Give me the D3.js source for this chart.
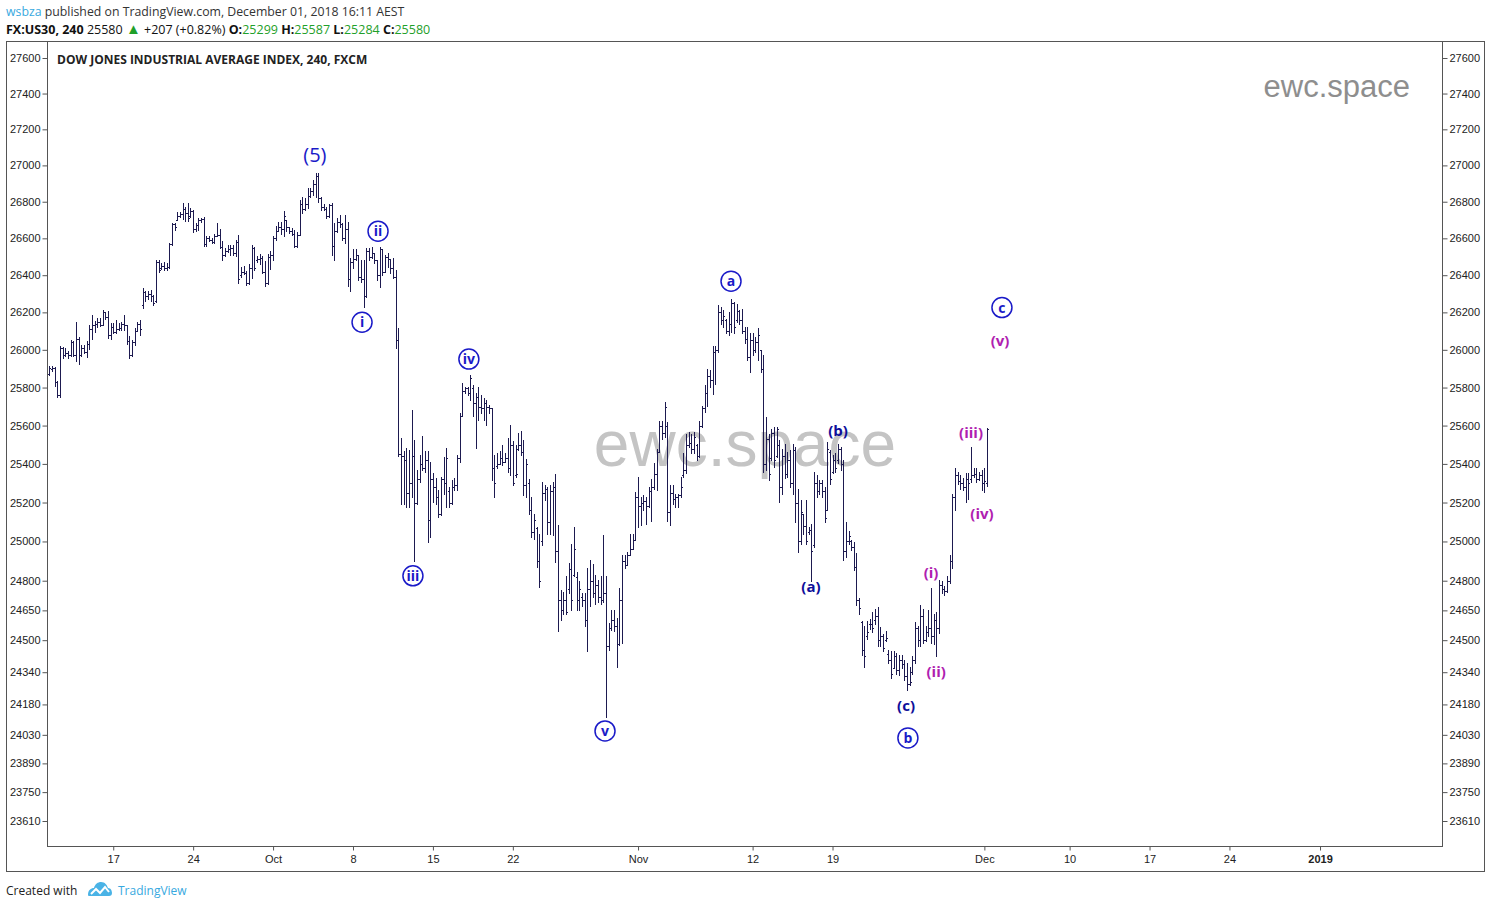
<!DOCTYPE html>
<html><head><meta charset="utf-8">
<script src="https://cdn.jsdelivr.net/npm/d3@7"></script>
<style>body{margin:0;background:#fff;} svg{display:block;}</style>
</head><body><svg id="c" width="1490" height="908"></svg>
<script>
// ---------- DATA (4h bars, FX:US30) ----------
const opens=[
25870,25900,25905,25830,25760,26010,25975,25985,25970,26040,
25975,26060,25975,26010,25990,26030,26110,26130,26140,26150,
26135,26200,26175,26080,26120,26095,26110,26115,26140,26130,
26045,25975,26040,26100,26140,26240,26310,26290,26300,26290,
26260,26470,26440,26450,26440,26445,26570,26680,26700,26720,
26735,26760,26740,26720,26750,26650,26670,26700,26705,26570,
26600,26590,26580,26615,26620,26555,26510,26530,26540,26550,
26520,26580,26400,26420,26410,26360,26440,26550,26480,26490,
26495,26420,26360,26500,26510,26600,26640,26660,26650,26700,
26660,26640,26625,26560,26620,26790,26760,26790,26830,26860,
26900,26940,26820,26770,26760,26720,26780,26560,26640,26690,
26680,26600,26650,26380,26470,26490,26510,26390,26380,26290,
26530,26500,26520,26480,26400,26540,26420,26500,26490,26440,
26390,26050,25450,25440,25420,25250,25300,25440,25200,25320,
25400,25380,25420,25110,25320,25280,25230,25140,25320,25300,
25260,25200,25280,25290,25430,25650,25780,25795,25770,25800,
25720,25750,25700,25690,25720,25700,25690,25380,25390,25400,
25430,25410,25430,25380,25500,25340,25480,25500,25460,25290,
25300,25160,25050,25070,24900,25000,25250,25270,25100,25260,
25280,24950,24700,24650,24700,24760,24860,24830,24820,24700,
24720,24700,24600,24760,24800,24740,24780,24720,24700,24740,
24470,24560,24600,24570,24480,24700,24900,24880,24930,24960,
25010,25230,25180,25200,25210,25180,25260,25280,25350,25460,
25600,25560,25600,25150,25250,25220,25230,25240,25340,25370,
25500,25510,25480,25500,25440,25600,25690,25770,25860,25840,
25990,26000,26200,26160,26160,26100,26140,26250,26160,26210,
26160,26100,26060,25960,26050,26000,26040,26000,25900,25400,
25530,25430,25560,25440,25500,25280,25440,25350,25420,25300,
25470,25200,25000,25140,25080,25050,25060,24980,25300,25260,
25300,25260,25160,25460,25360,25420,25420,25480,25400,24950,
25000,25000,24970,24870,24700,24590,24450,24520,24580,24580,
24600,24620,24500,24520,24500,24430,24400,24360,24420,24350,
24400,24380,24320,24280,24340,24400,24560,24500,24620,24500,
24540,24560,24520,24600,24560,24780,24760,24750,24800,24900,
25230,25340,25310,25300,25280,25320,25320,25340,25350,25320,
25340,25300,25299];
const highs=[
25913,25913,25908,25837,26018,26015,26010,25992,26054,26045,
26150,26070,26027,26027,26045,26130,26185,26155,26168,26168,
26215,26200,26210,26142,26142,26160,26142,26150,26185,26133,
26075,26054,26115,26150,26160,26330,26315,26315,26320,26295,
26480,26480,26467,26472,26467,26575,26683,26683,26746,26746,
26791,26773,26795,26764,26755,26683,26710,26710,26714,26615,
26611,26602,26624,26683,26650,26588,26548,26566,26566,26566,
26593,26620,26445,26449,26422,26458,26566,26553,26503,26517,
26503,26476,26517,26530,26615,26665,26687,26687,26750,26700,
26663,26654,26645,26636,26810,26828,26818,26875,26875,26922,
26960,26960,26825,26790,26772,26790,26795,26681,26709,26727,
26681,26727,26690,26494,26540,26543,26510,26483,26483,26550,
26550,26553,26520,26483,26553,26540,26510,26520,26490,26492,
26430,26116,25535,25465,25482,25473,25682,25526,25369,25447,
25543,25465,25465,25412,25351,25325,25264,25334,25438,25482,
25281,25316,25325,25447,25665,25823,25805,25805,25867,25814,
25770,25805,25761,25744,25735,25709,25691,25447,25456,25465,
25500,25456,25535,25604,25517,25500,25561,25574,25523,25428,
25324,25228,25142,25073,25039,25307,25289,25280,25289,25307,
25350,25082,24753,24745,24822,24888,24988,25073,24842,24800,
24736,24736,24863,24905,24884,24830,24804,24822,25031,24822,
24585,24650,24650,24610,24762,24930,24930,24947,25039,25039,
25254,25333,25228,25237,25228,25280,25324,25403,25480,25626,
25626,25723,25617,25289,25289,25246,25246,25333,25455,25557,
25566,25557,25566,25506,25626,25705,25811,25900,25892,26018,
26018,26237,26228,26211,26167,26202,26272,26254,26246,26211,
26219,26123,26123,26088,26088,26070,26114,26000,25973,25644,
25557,25583,25591,25591,25523,25480,25506,25463,25472,25506,
25489,25272,25211,25142,25211,25073,25090,25360,25342,25316,
25316,25281,25515,25472,25446,25455,25506,25489,25421,25099,
25056,25005,24997,24939,24710,24597,24572,24597,24605,24640,
24659,24667,24564,24530,24547,24453,24445,24445,24436,24428,
24428,24402,24385,24368,24419,24589,24572,24676,24659,24572,
24650,24762,24634,24642,24805,24797,24771,24822,24930,25246,
25377,25360,25342,25325,25351,25351,25489,25377,25377,25360,
25368,25377,25587];
const lows=[
25864,25887,25807,25750,25750,25957,25966,25957,25966,25966,
25940,25925,25966,25983,25960,26005,26058,26095,26124,26128,
26130,26165,26062,26058,26088,26088,26105,26108,26108,26030,
25955,25966,26025,26100,26080,26225,26260,26270,26260,26240,
26256,26415,26435,26430,26430,26440,26566,26647,26700,26715,
26705,26696,26692,26715,26633,26638,26647,26687,26557,26561,
26584,26575,26575,26611,26548,26485,26503,26525,26512,26512,
26503,26360,26390,26404,26346,26355,26386,26426,26470,26463,
26413,26341,26355,26431,26485,26593,26638,26625,26611,26640,
26627,26618,26551,26551,26618,26736,26755,26764,26828,26837,
26828,26800,26754,26754,26709,26718,26510,26483,26635,26663,
26590,26573,26340,26313,26438,26483,26375,26366,26230,26285,
26483,26493,26466,26375,26335,26402,26420,26447,26411,26384,
26010,25440,25195,25195,25175,25175,25228,24900,25195,25308,
25369,25360,24997,25022,25202,25195,25125,25134,25246,25175,
25175,25195,25264,25264,25412,25648,25770,25761,25735,25648,
25482,25630,25665,25630,25604,25665,25316,25228,25377,25400,
25395,25410,25360,25342,25290,25334,25473,25446,25237,25228,
25142,25022,25014,24872,24770,24980,25211,25039,25039,25031,
24897,24545,24602,24634,24634,24736,24650,24822,24650,24650,
24670,24569,24445,24670,24719,24684,24693,24684,24693,24119,
24452,24553,24545,24368,24478,24488,24863,24878,24930,24960,
25010,25073,25082,25159,25090,25176,25107,25272,25263,25460,
25532,25540,25107,25082,25194,25176,25176,25228,25333,25351,
25489,25455,25455,25421,25438,25591,25670,25705,25802,25767,
25820,25991,26140,26123,26088,26079,26097,26088,26149,26140,
26088,26035,25946,25883,25973,25991,25946,25883,25360,25369,
25316,25421,25386,25438,25202,25246,25325,25333,25281,25246,
25099,24947,24989,25039,24989,25039,24797,24972,25228,25246,
25228,25099,25159,25298,25351,25360,25403,25368,24905,24922,
24989,24955,24855,24676,24634,24428,24368,24505,24556,24540,
24581,24471,24471,24445,24496,24385,24311,24359,24333,24325,
24359,24300,24253,24275,24333,24385,24471,24471,24488,24496,
24521,24488,24479,24419,24538,24736,24727,24745,24788,24864,
25159,25298,25272,25264,25202,25219,25307,25333,25307,25316,
25264,25255,25284];
const closes=[
25904,25905,25830,25760,26010,25975,25985,25970,26040,25975,
26060,25975,26010,25990,26030,26110,26130,26140,26150,26135,
26200,26175,26080,26120,26095,26110,26115,26140,26130,26045,
25975,26040,26100,26140,26110,26310,26290,26300,26290,26250,
26470,26430,26450,26440,26445,26570,26680,26660,26720,26735,
26760,26740,26710,26750,26650,26670,26700,26705,26570,26600,
26590,26580,26615,26620,26555,26510,26530,26540,26550,26520,
26580,26380,26420,26410,26360,26440,26550,26440,26490,26495,
26420,26360,26500,26510,26600,26640,26660,26650,26720,26660,
26640,26625,26560,26620,26790,26760,26790,26830,26860,26900,
26940,26820,26770,26760,26720,26780,26560,26640,26690,26680,
26600,26650,26380,26470,26490,26510,26390,26380,26290,26530,
26500,26520,26480,26400,26540,26420,26500,26490,26440,26390,
26050,25450,25440,25420,25250,25300,25440,25200,25320,25400,
25380,25420,25110,25320,25280,25230,25140,25320,25300,25430,
25200,25280,25290,25430,25650,25780,25795,25770,25850,25720,
25750,25700,25690,25720,25700,25690,25380,25300,25400,25430,
25410,25430,25380,25500,25300,25350,25500,25460,25290,25400,
25160,25050,25110,24900,24800,25250,25270,25100,25260,25280,
24950,24700,24650,24700,24640,24860,24700,24960,24700,24760,
24700,24600,24760,24800,24740,24780,24720,24700,24740,24470,
24560,24600,24570,24480,24700,24900,24880,24930,24960,25010,
25230,25180,25200,25210,25180,25260,25280,25350,25460,25600,
25560,25700,25150,25250,25220,25230,25240,25280,25370,25500,
25510,25480,25540,25440,25600,25690,25770,25860,25840,25990,
26000,26200,26160,26180,26100,26140,26250,26120,26210,26160,
26100,26060,25960,26050,26000,26040,26080,25900,25400,25530,
25350,25560,25420,25580,25280,25440,25350,25420,25300,25470,
25200,25000,25150,25080,25000,25060,24950,25300,25260,25300,
25260,25120,25480,25320,25420,25380,25480,25400,24950,25000,
25030,24970,24870,24700,24660,24450,24420,24540,24580,24560,
24620,24500,24520,24460,24510,24400,24330,24420,24350,24400,
24380,24320,24280,24290,24400,24560,24500,24620,24500,24540,
24560,24520,24600,24560,24780,24760,24750,24800,24900,25230,
25340,25310,25300,25280,25320,25300,25340,25350,25320,25340,
25300,25310,25580];

const priceTicks=[27600,27400,27200,27000,26800,26600,26400,26200,26000,25800,25600,25400,25200,25000,24800,24650,24500,24340,24180,24030,23890,23750,23610];
const dateTickIndex=[24,54,84,114,144,174,221,264,294,351,383,413,443,477];
const dateTickLabels=["17","24","Oct","8","15","22","Nov","12","19","Dec","10","17","24","2019"];

// Elliott wave labels: text, bar index, price, style
const waveText =["(5)","i","ii","iii","iv","v","a","b","c","(a)","(b)","(c)","(i)","(ii)","(iii)","(iv)","(v)"];
const waveIndex=[99.7,117.4,123.4,136.5,157.5,208.6,255.9,322.3,357.6,285.9,296.1,321.6,331,332.9,346,350.1,356.9];
const wavePrice=[27056,26147,26639,24825,25951,24049,26368,24015,26226,24769,25574,24175,24840,24345,25564,25144,26047];
const waveStyle=["big","circle","circle","circle","circle","circle","circle","circle","circle","minor","minor","minor","sub","sub","sub","sub","sub"];

// ---------- LAYOUT ----------
const svg=d3.select("#c");
const L=47, R=1442, T=41, B=846;
const x=d3.scaleLinear().domain([0,523]).range([49.3,49.3+523*2.664]);
const y=d3.scaleLog().domain([23610,27600]).range([821,58]);
const axisCol="#555", textCol="#222";
const font="'Liberation Sans', Arial, sans-serif";
const uiFont="'Open Sans', 'Noto Sans', sans-serif";

// header
const h1=svg.append("text").attr("x",6).attr("y",16).attr("font-family",uiFont).attr("font-size",12.3).attr("fill","#333");
h1.append("tspan").attr("fill","#38a9e0").text("wsbza");
h1.append("tspan").text(" published on TradingView.com, December 01, 2018 16:11 AEST");
const h2=svg.append("text").attr("x",6).attr("y",34).attr("font-family",uiFont).attr("font-size",12.5).attr("fill","#111");
const green="#1fa02a";
h2.append("tspan").attr("font-weight","bold").text("FX:US30, 240");
h2.append("tspan").text("  25580 ");
h2.append("tspan").attr("fill",green).attr("font-size",15).text("▲");
h2.append("tspan").text(" +207 (+0.82%) ");
[["O:","25299"],["H:","25587"],["L:","25284"],["C:","25580"]].forEach(([k,v])=>{
  h2.append("tspan").attr("font-weight","bold").text(k);
  h2.append("tspan").attr("fill",green).text(v+" ");
});

// frames
svg.append("rect").attr("x",6.5).attr("y",41.5).attr("width",1478).attr("height",830).attr("fill","none").attr("stroke",axisCol);
svg.append("line").attr("x1",L+0.5).attr("x2",L+0.5).attr("y1",T).attr("y2",B+0.5).attr("stroke",axisCol);
svg.append("line").attr("x1",R+0.5).attr("x2",R+0.5).attr("y1",T).attr("y2",B+0.5).attr("stroke",axisCol);
svg.append("line").attr("x1",L).attr("x2",R+1).attr("y1",B+0.5).attr("y2",B+0.5).attr("stroke",axisCol);

// watermarks
svg.append("text").attr("x",1410).attr("y",97).attr("text-anchor","end").attr("font-family",font).attr("font-size",31).attr("fill","#8e8e8e").text("ewc.space");
svg.append("text").attr("x",745).attr("y",466).attr("text-anchor","middle").attr("font-family",font).attr("font-size",64).attr("fill","#c4c4c4").text("ewc.space");

// title
svg.append("text").attr("x",57).attr("y",64).attr("font-family",uiFont).attr("font-weight","bold").attr("font-size",12).attr("fill",textCol).text("DOW JONES INDUSTRIAL AVERAGE INDEX, 240, FXCM");

// y axes
const yl=svg.append("g").attr("transform",`translate(${L+0.5},0)`).call(d3.axisLeft(y).tickValues(priceTicks).tickFormat(d3.format("d")).tickSize(5).tickPadding(2));
const yr=svg.append("g").attr("transform",`translate(${R+0.5},0)`).call(d3.axisRight(y).tickValues(priceTicks).tickFormat(d3.format("d")).tickSize(5).tickPadding(2));
[yl,yr].forEach(g=>{g.select(".domain").remove();g.selectAll("line").attr("stroke",axisCol);g.selectAll("text").attr("font-family",font).attr("font-size",11).attr("fill",textCol);});

// x axis
const xa=svg.append("g").attr("transform",`translate(0,${B+0.5})`).call(d3.axisBottom(x).tickValues(dateTickIndex).tickFormat((d,i)=>dateTickLabels[i]).tickSize(4).tickPadding(5));
xa.select(".domain").remove();
xa.selectAll("line").attr("stroke",axisCol);
xa.selectAll("text").attr("font-family",font).attr("font-size",11).attr("fill",textCol).attr("font-weight",(d,i)=>dateTickLabels[i]==="2019"?"bold":null);

// OHLC bars
const barCol="#1d1a50";
const bars=svg.append("g").attr("stroke",barCol).attr("stroke-width",1).attr("fill","none").attr("shape-rendering","crispEdges");
bars.selectAll("path").data(d3.range(opens.length)).join("path").attr("d",i=>{
  const px=Math.round(x(i))+0.5;
  const yo=Math.round(y(opens[i]))+0.5, yc=Math.round(y(closes[i]))+0.5;
  const yh=Math.round(y(highs[i])), yl2=Math.round(y(lows[i]))+1;
  return `M${px},${yh}V${yl2}M${px-1.5},${yo}H${px}M${px},${yc}H${px+1.5}`;
});

// wave labels
const blue="#1a1ac8", navy="#0e0e9a", magenta="#b01eb0";
waveText.forEach((t,i)=>{
  const cx=x(waveIndex[i]), cy=y(wavePrice[i]), s=waveStyle[i];
  if(s==="circle"){
    svg.append("circle").attr("cx",cx).attr("cy",cy).attr("r",10).attr("fill","#fff").attr("stroke",blue).attr("stroke-width",1.5);
    svg.append("text").attr("x",cx).attr("y",cy).attr("dy","0.36em").attr("text-anchor","middle").attr("font-family",uiFont).attr("font-weight","bold").attr("font-size",14).attr("fill",blue).text(t);
  } else if(s==="big"){
    svg.append("text").attr("x",cx).attr("y",cy).attr("dy","0.36em").attr("text-anchor","middle").attr("font-family",uiFont).attr("font-size",20).attr("fill",blue).text(t);
  } else {
    svg.append("text").attr("x",cx).attr("y",cy).attr("dy","0.36em").attr("text-anchor","middle").attr("font-family",uiFont).attr("font-weight","bold").attr("font-size",15).attr("fill",s==="minor"?navy:magenta).text(t);
  }
});

// footer
svg.append("text").attr("x",6).attr("y",895).attr("font-family",uiFont).attr("font-size",12).attr("fill","#222").text("Created with");
const logo=svg.append("g").attr("transform","translate(88,881)");
logo.append("path").attr("d","M0,14 C0,9 3,7 6,7 C7,3 10,1 13,1 C17,1 19,4 20,7 C23,7 24,10 24,12 C24,14 23,15 21,15 L2,15 C1,15 0,15 0,14 Z").attr("fill","#4ab3e6");
logo.append("path").attr("d","M3,13 L8,8 L12,12 L17,6 L21,11").attr("stroke","#fff").attr("stroke-width",2).attr("fill","none");
svg.append("text").attr("x",118).attr("y",895).attr("font-family",uiFont).attr("font-size",12).attr("fill","#38a9e0").text("TradingView");
</script></body></html>
